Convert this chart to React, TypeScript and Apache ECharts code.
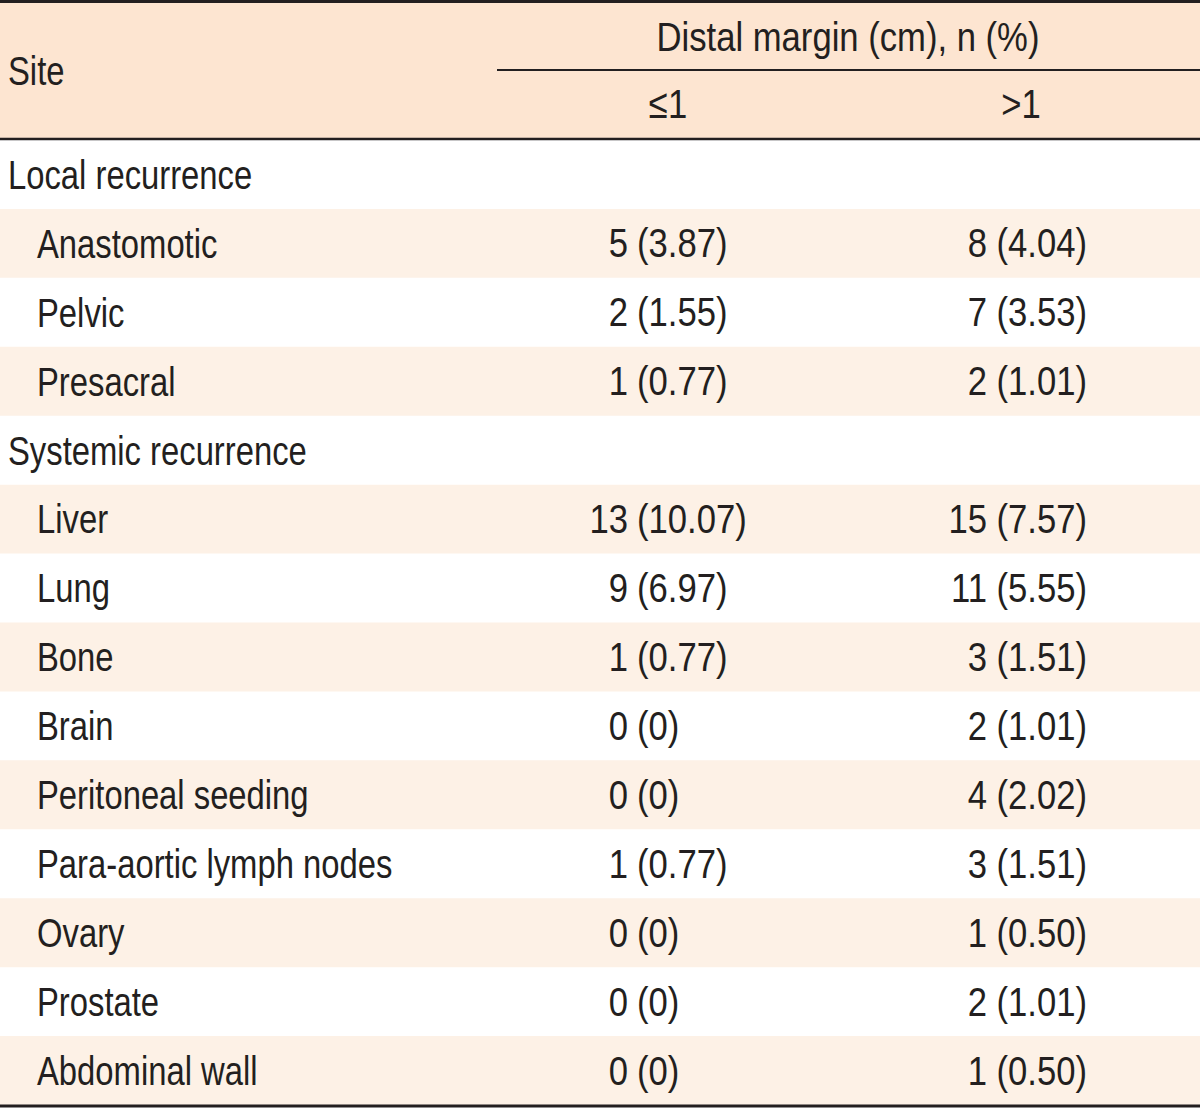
import React, { useEffect, useRef } from "react";
import * as echarts from "echarts";

const headerSite = "Site";
const headerGroup = "Distal margin (cm), n (%)";
const colHeaders = ["≤1", ">1"];

const sites = [
  "Local recurrence",
  "Anastomotic",
  "Pelvic",
  "Presacral",
  "Systemic recurrence",
  "Liver",
  "Lung",
  "Bone",
  "Brain",
  "Peritoneal seeding",
  "Para-aortic lymph nodes",
  "Ovary",
  "Prostate",
  "Abdominal wall",
];
const isGroup = [true, false, false, false, true, false, false, false, false, false, false, false, false, false];
const countLe1: (number | null)[] = [null, 5, 2, 1, null, 13, 9, 1, 0, 0, 1, 0, 0, 0];
const pctLe1: (string | null)[] = [null, "3.87", "1.55", "0.77", null, "10.07", "6.97", "0.77", "0", "0", "0.77", "0", "0", "0"];
const countGt1: (number | null)[] = [null, 8, 7, 2, null, 15, 11, 3, 2, 4, 3, 1, 2, 1];
const pctGt1: (string | null)[] = [null, "4.04", "3.53", "1.01", null, "7.57", "5.55", "1.51", "1.01", "2.02", "1.51", "0.50", "1.01", "0.50"];

const W = 1200;
const H = 1108;
const INK = "#231f20";
const HEADER_BG = "#fde5d1";
const STRIPE_BG = "#fdf1e6";
const FONT = '"Liberation Sans", Arial, sans-serif';
const FS = 41;
const SX = 0.8;
const SX_NUM = 0.845;

export default function App() {
  const ref = useRef<HTMLDivElement>(null);
  useEffect(() => {
    document.body.style.margin = "0";
    if (!ref.current) return;
    const chart = echarts.init(ref.current, null, { renderer: "svg" });

    const headTop = 3;
    const headBottom = 139;
    const bodyTop = 140;
    const bodyBottom = 1105;
    const rowH = (bodyBottom - bodyTop) / sites.length;

    const els: any[] = [];
    els.push({ type: "rect", shape: { x: 0, y: headTop, width: W, height: headBottom - headTop }, style: { fill: HEADER_BG } });

    sites.forEach((_, i) => {
      if (i % 2 === 1) {
        els.push({ type: "rect", shape: { x: 0, y: bodyTop + i * rowH, width: W, height: rowH }, style: { fill: STRIPE_BG } });
      }
    });

    const txt = (text: string, x: number, y: number, align: string, sx = SX) => ({
      type: "text",
      x,
      y,
      scaleX: sx,
      style: { text, fill: INK, font: `${FS}px ${FONT}`, align, verticalAlign: "middle" },
    });

    els.push(txt(headerSite, 8, 71, "left"));
    els.push(txt(headerGroup, 848, 37, "center", SX_NUM));
    els.push(txt(colHeaders[0], 668, 104, "center", SX_NUM));
    els.push(txt(colHeaders[1], 1021, 104, "center", SX_NUM));

    sites.forEach((s, i) => {
      const cy = bodyTop + i * rowH + rowH / 2;
      els.push(txt(s, isGroup[i] ? 8 : 37, cy, "left"));
      if (countLe1[i] !== null) {
        els.push(txt(String(countLe1[i]), 628, cy, "right", SX_NUM));
        els.push(txt(`(${pctLe1[i]})`, 637, cy, "left", SX_NUM));
      }
      if (countGt1[i] !== null) {
        els.push(txt(`${countGt1[i]} (${pctGt1[i]})`, 1087, cy, "right", SX_NUM));
      }
    });

    els.push({ type: "line", shape: { x1: 0, y1: 1.5, x2: W, y2: 1.5 }, style: { stroke: INK, lineWidth: 3 } });
    els.push({ type: "line", shape: { x1: 497, y1: 70, x2: W, y2: 70 }, style: { stroke: INK, lineWidth: 2 } });
    els.push({ type: "line", shape: { x1: 0, y1: 139, x2: W, y2: 139 }, style: { stroke: INK, lineWidth: 2.5 } });
    els.push({ type: "line", shape: { x1: 0, y1: 1106, x2: W, y2: 1106 }, style: { stroke: INK, lineWidth: 3 } });

    chart.setOption({
      animation: false,
      backgroundColor: "#ffffff",
      graphic: { elements: els },
    });
    return () => chart.dispose();
  }, []);
  return <div ref={ref} style={{ width: W, height: H }} />;
}
